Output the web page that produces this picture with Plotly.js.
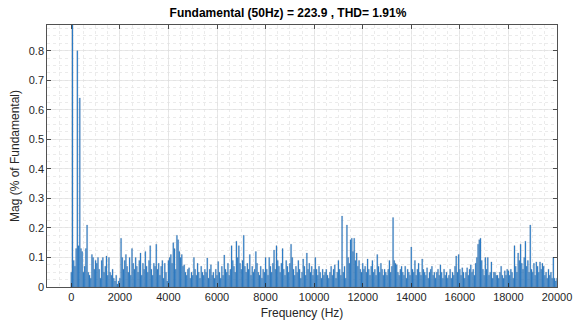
<!DOCTYPE html>
<html>
<head>
<meta charset="utf-8">
<script src="https://cdn.plot.ly/plotly-3.0.1.min.js"></script>
<style>html,body{margin:0;padding:0;background:#fff;}#chart{width:574px;height:323px;}</style>
</head>
<body>
<div id="chart"></div>
<script>
// Bin width of the spectrum (Hz); bin i is at i*binWidth
const binWidth = 50;
// Magnitudes (% of fundamental), bin 0 = DC, bin 1 = 50 Hz fundamental (100%)
const dcMag = [0.05];
const mags = [
  100, 0.09, 0.07, 0.13, 0.8, 0.14, 0.64, 0.13, 0.12, 0.05,
  0.07, 0.13, 0.21, 0.05, 0.04, 0.03, 0.11, 0.10, 0.06, 0.09,
  0.08, 0.10, 0.06, 0.03, 0.09, 0.10, 0.05, 0.07, 0.105, 0.04,
  0.10, 0.05, 0.04, 0.06, 0.03, 0.02, 0.04, 0.01, 0.02, 0.03,
  0.165, 0.10, 0.06, 0.09, 0.11, 0.07, 0.05, 0.10, 0.04, 0.13,
  0.08, 0.06, 0.10, 0.07, 0.05, 0.09, 0.115, 0.04, 0.08, 0.06,
  0.12, 0.07, 0.05, 0.09, 0.14, 0.06, 0.04, 0.08, 0.07, 0.145,
  0.06, 0.08, 0.04, 0.07, 0.09, 0.03, 0.08, 0.05, 0.02, 0.09,
  0.10, 0.11, 0.08, 0.15, 0.13, 0.06, 0.175, 0.16, 0.12, 0.10,
  0.11, 0.07, 0.075, 0.05, 0.04, 0.06, 0.065, 0.03, 0.05, 0.04,
  0.10, 0.06, 0.04, 0.08, 0.05, 0.03, 0.07, 0.05, 0.04, 0.06,
  0.05, 0.098, 0.03, 0.06, 0.075, 0.04, 0.05, 0.03, 0.06, 0.04,
  0.086, 0.05, 0.03, 0.07, 0.04, 0.108, 0.06, 0.05, 0.08, 0.04,
  0.06, 0.14, 0.09, 0.07, 0.05, 0.155, 0.10, 0.14, 0.08, 0.06,
  0.09, 0.175, 0.07, 0.05, 0.08, 0.06, 0.11, 0.04, 0.07, 0.05,
  0.06, 0.12, 0.08, 0.05, 0.04, 0.07, 0.03, 0.06, 0.05, 0.10,
  0.06, 0.04, 0.10, 0.07, 0.05, 0.08, 0.125, 0.06, 0.14, 0.09,
  0.07, 0.05, 0.08, 0.13, 0.06, 0.04, 0.09, 0.07, 0.05, 0.08,
  0.145, 0.10, 0.06, 0.04, 0.07, 0.05, 0.09, 0.06, 0.03, 0.05,
  0.095, 0.07, 0.04, 0.115, 0.06, 0.08, 0.05, 0.07, 0.04, 0.06,
  0.10, 0.06, 0.04, 0.07, 0.05, 0.03, 0.06, 0.04, 0.05, 0.06,
  0.04, 0.03, 0.05, 0.07, 0.04, 0.06, 0.075, 0.03, 0.05, 0.09,
  0.06, 0.04, 0.24, 0.05, 0.07, 0.03, 0.21, 0.10, 0.08, 0.16,
  0.165, 0.12, 0.165, 0.09, 0.115, 0.07, 0.09, 0.06, 0.05, 0.08,
  0.06, 0.07, 0.05, 0.095, 0.06, 0.04, 0.07, 0.09, 0.05, 0.06,
  0.04, 0.11, 0.07, 0.05, 0.08, 0.06, 0.04, 0.06, 0.05, 0.04,
  0.06, 0.09, 0.05, 0.07, 0.235, 0.09, 0.08, 0.075, 0.05, 0.04,
  0.06, 0.07, 0.05, 0.04, 0.07, 0.03, 0.06, 0.05, 0.04, 0.135,
  0.06, 0.05, 0.09, 0.04, 0.06, 0.08, 0.05, 0.04, 0.095, 0.06,
  0.05, 0.04, 0.065, 0.03, 0.05, 0.06, 0.07, 0.04, 0.05, 0.03,
  0.05, 0.06, 0.04, 0.075, 0.05, 0.03, 0.06, 0.04, 0.05, 0.03,
  0.04, 0.06, 0.03, 0.05, 0.04, 0.07, 0.105, 0.05, 0.11, 0.06,
  0.04, 0.065, 0.05, 0.03, 0.05, 0.065, 0.04, 0.06, 0.075, 0.05,
  0.06, 0.04, 0.08, 0.10, 0.145, 0.16, 0.165, 0.09, 0.06, 0.04,
  0.10, 0.06, 0.10, 0.04, 0.05, 0.085, 0.03, 0.05, 0.05, 0.04,
  0.04, 0.03, 0.05, 0.07, 0.04, 0.03, 0.055, 0.04, 0.06, 0.055,
  0.04, 0.06, 0.05, 0.03, 0.14, 0.07, 0.05, 0.115, 0.09, 0.145,
  0.08, 0.06, 0.10, 0.155, 0.07, 0.09, 0.05, 0.21, 0.06, 0.05,
  0.08, 0.04, 0.085, 0.07, 0.05, 0.085, 0.06, 0.08, 0.07, 0.04,
  0.05, 0.03, 0.06, 0.04, 0.05, 0.03, 0.10, 0.03, 0.02, 0.03
];
const allMags = dcMag.concat(mags);
const freqs = allMags.map((_, i) => i * binWidth);

const xTicks = [0, 2000, 4000, 6000, 8000, 10000, 12000, 14000, 16000, 18000, 20000];
const yTicks = [0, 0.1, 0.2, 0.3, 0.4, 0.5, 0.6, 0.7, 0.8];
const titleText = 'Fundamental (50Hz) = 223.9 , THD= 1.91%';

const axisCommon = {
  showline: true, mirror: 'allticks', linecolor: '#262626', linewidth: 0.8,
  ticks: 'inside', ticklen: 4, tickcolor: '#262626', tickwidth: 0.8,
  showgrid: true, gridcolor: '#e0e0e0', gridwidth: 0.7,
  zeroline: false,
  tickfont: {family: 'Liberation Sans, Arial, sans-serif', size: 11, color: '#262626'}
};

const trace = {
  type: 'bar', x: freqs, y: allMags,
  marker: {color: '#1f7fd6', line: {color: 'rgba(95,110,130,0.75)', width: 0.3}},
  hoverinfo: 'x+y'
};

const layout = {
  width: 574, height: 323,
  margin: {l: 47, r: 17, t: 25, b: 36},
  paper_bgcolor: '#ffffff', plot_bgcolor: '#ffffff',
  bargap: 0.1, showlegend: false,
  title: {text: '<b>' + titleText + '</b>', x: 0.4725, xref: 'paper', xanchor: 'center',
          y: 1, yref: 'container', yanchor: 'top', pad: {t: 9},
          font: {family: 'Liberation Sans, Arial, sans-serif', size: 12, color: '#000'}},
  xaxis: Object.assign({}, axisCommon, {
    range: [-1000, 20000], tickvals: xTicks, ticktext: xTicks.map(String),
    minor: {dtick: 500, tick0: 0, showgrid: true, gridcolor: '#e6e6e6', griddash: 'dot', gridwidth: 0.8, ticks: ''},
    title: {text: 'Frequency (Hz)', standoff: 6, font: {family: 'Liberation Sans, Arial, sans-serif', size: 12, color: '#262626'}}
  }),
  yaxis: Object.assign({}, axisCommon, {
    range: [0, 0.887], tickvals: yTicks, ticktext: yTicks.map(String),
    minor: {dtick: 0.025, tick0: 0, showgrid: true, gridcolor: '#e6e6e6', griddash: 'dot', gridwidth: 0.8, ticks: ''},
    title: {text: 'Mag (% of Fundamental)', standoff: 6, font: {family: 'Liberation Sans, Arial, sans-serif', size: 12, color: '#262626'}}
  })
};

Plotly.newPlot('chart', [trace], layout, {displayModeBar: false, staticPlot: true});
</script>
</body>
</html>
